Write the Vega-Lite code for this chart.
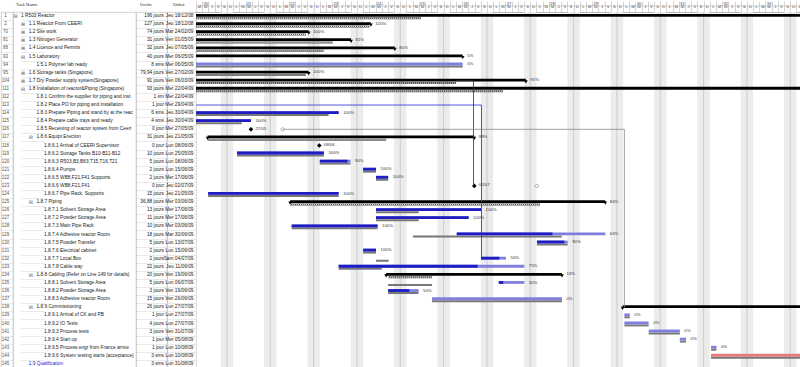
{
"$schema": "https://vega.github.io/schema/vega-lite/v6.json",
"padding": 0,
"spacing": 0,
"bounds": "flush",
"background": "white",
"config": {
  "view": {"stroke": "#c6c6c6", "strokeWidth": 0.8},
  "font": "Liberation Sans",
  "title": {"fontSize": 4.3, "fontWeight": "normal", "color": "#333", "anchor": "start", "frame": "group", "offset": 5, "baseline": "bottom", "font": "Liberation Sans"},
  "axis": {"labelFont": "Liberation Sans"}
},
"datasets": {
"tasks": [
{"i":0,"id":1,"n":"1 R503 Reactor","d":"196 jours","st":"Jeu 18/12/08","l":0,"k":"sum","ex":true,"s":"2008-12-18","e":"2009-09-15","bs":"2008-12-18","be":"2009-06-24T08:00Z"},
{"i":1,"id":2,"n":"1.1 Reactor From CEERI","d":"127 jours","st":"Jeu 18/12/08","l":1,"k":"sum","ex":false,"s":"2008-12-18","e":"2009-06-16T06:00Z","bs":"2008-12-18","be":"2009-06-16T00:00Z","lab":"100%"},
{"i":2,"id":70,"n":"1.2 Site work","d":"74 jours","st":"Mar 24/02/09","l":1,"k":"sum","ex":false,"s":"2009-02-24","e":"2009-06-06T05:00Z","bs":"2009-02-24","be":"2009-06-05T18:00Z","lab":"100%"},
{"i":3,"id":81,"n":"1.3 Nitrogen Generator","d":"31 jours","st":"Ven 01/05/09","l":1,"k":"sum","ex":false,"s":"2009-05-01","e":"2009-06-13T01:00Z","bs":"2009-05-01","be":"2009-06-10T02:00Z","lab":"81%"},
{"i":4,"id":88,"n":"1.4 Licence and Permits","d":"32 jours","st":"Jeu 07/05/09","l":1,"k":"sum","ex":false,"s":"2009-05-07","e":"2009-06-20T03:00Z","bs":"2009-05-07","be":"2009-06-08T15:00Z","lab":"80%"},
{"i":5,"id":93,"n":"1.5 Laboratory","d":"40 jours","st":"Mer 06/05/09","l":1,"k":"sum","ex":true,"s":"2009-05-06","e":"2009-07-01T02:00Z","lab":"5%"},
{"i":6,"id":94,"n":"1.5.1 Polymer lab ready","d":"8 sms","st":"Mer 06/05/09","l":2,"k":"task","s":"2009-05-06","e":"2009-07-01T02:00Z","p":"2009-05-09","bs":"2009-05-06","be":"2009-07-01T02:00Z","lab":"5%"},
{"i":7,"id":95,"n":"1.6 Storage tanks (Singapore)","d":"79,94 jours","st":"Ven 27/02/09","l":1,"k":"sum","ex":false,"s":"2009-02-27","e":"2009-06-06T05:00Z","bs":"2009-02-27","be":"2009-06-05T18:00Z","lab":"100%"},
{"i":8,"id":104,"n":"1.7 Dry Powder supply system(Singapore)","d":"91 jours","st":"Ven 06/03/09","l":1,"k":"sum","ex":false,"s":"2009-03-06","e":"2009-07-11T07:00Z","bs":"2009-03-06","be":"2009-06-30T00:00Z","lab":"91%"},
{"i":9,"id":111,"n":"1.8 Installation of reactor&Piping (Singapore)","d":"93 jours","st":"Mer 22/04/09","l":1,"k":"sum","ex":true,"s":"2009-04-22","e":"2009-09-15","bs":"2009-04-22","be":"2009-07-07T14:00Z"},
{"i":10,"id":112,"n":"1.8.1 Confirm the supplier for piping and installation","d":"1 sm","st":"Mer 22/04/09","l":2,"k":"task","s":"2009-04-22","e":"2009-04-29","p":"2009-04-29","bs":"2009-04-22","be":"2009-04-29"},
{"i":11,"id":113,"n":"1.8.2 Place PO for piping and installation","d":"1 jour","st":"Mer 29/04/09","l":2,"k":"task","s":"2009-04-29","e":"2009-04-30","p":"2009-04-30","bs":"2009-04-29","be":"2009-04-30"},
{"i":12,"id":114,"n":"1.8.3 Prepare Piping and stand by at the reactor","d":"6 sms","st":"Jeu 30/04/09","l":2,"k":"task","s":"2009-04-30","e":"2009-06-11T01:00Z","p":"2009-06-11T01:00Z","bs":"2009-04-30","be":"2009-06-09T10:00Z","lab":"100%"},
{"i":13,"id":115,"n":"1.8.4 Prepare cable trays and ready","d":"4 sms","st":"Jeu 30/04/09","l":2,"k":"task","s":"2009-04-30","e":"2009-05-27T21:00Z","p":"2009-05-27T21:00Z","bs":"2009-04-30","be":"2009-05-26T09:00Z","lab":"100%"},
{"i":14,"id":116,"n":"1.8.5 Receiving of reactor system from Ceeri","d":"0 jour","st":"Mer 27/05/09","l":2,"k":"ms","s":"2009-05-27T21:00Z","e":"2009-05-27T21:00Z","bs":"2009-06-02T00:00Z","lab":"27/05"},
{"i":15,"id":117,"n":"1.8.6 Equipt Erection","d":"31 jours","st":"Jeu 21/05/09","l":2,"k":"sum","ex":true,"s":"2009-05-20T21:00Z","e":"2009-07-02T23:00Z","bs":"2009-05-20T21:00Z","be":"2009-06-18T17:00Z","lab":"99%"},
{"i":16,"id":118,"n":"1.8.6.1 Arrival of CEERI Supervisor","d":"0 jour","st":"Lun 08/06/09","l":3,"k":"ms","s":"2009-06-07T22:00Z","e":"2009-06-07T22:00Z","lab":"08/06"},
{"i":17,"id":119,"n":"1.8.6.2 Storage Tanks B10-B11-B12","d":"10 jours","st":"Lun 25/05/09","l":3,"k":"task","s":"2009-05-25T15:00Z","e":"2009-06-08T16:00Z","p":"2009-06-08T16:00Z","bs":"2009-05-25T15:00Z","be":"2009-06-08T16:00Z","lab":"100%"},
{"i":18,"id":120,"n":"1.8.6.3 R503,B3,B63,T15,T16,T21","d":"5 jours","st":"Lun 08/06/09","l":3,"k":"task","s":"2009-06-08T00:00Z","e":"2009-06-12T23:00Z","p":"2009-06-12T11:00Z","bs":"2009-06-08T00:00Z","be":"2009-06-12T23:00Z","lab":"90%"},
{"i":19,"id":121,"n":"1.8.6.4 Pumps","d":"2 jours","st":"Lun 15/06/09","l":3,"k":"task","s":"2009-06-15T00:00Z","e":"2009-06-17T02:00Z","p":"2009-06-17T02:00Z","bs":"2009-06-15T00:00Z","be":"2009-06-17T02:00Z","lab":"100%"},
{"i":20,"id":122,"n":"1.8.6.5 WB8,F21,F41 Supports","d":"2 jours","st":"Mer 17/06/09","l":3,"k":"task","s":"2009-06-17T02:00Z","e":"2009-06-19T01:00Z","p":"2009-06-19T01:00Z","bs":"2009-06-17T02:00Z","be":"2009-06-19T01:00Z","lab":"100%"},
{"i":21,"id":123,"n":"1.8.6.6 WB8,F21,F41","d":"0 jour","st":"Jeu 02/07/09","l":3,"k":"ms","s":"2009-07-02T23:00Z","e":"2009-07-02T23:00Z","bs":"2009-07-13T01:00Z","lab":"02/07"},
{"i":22,"id":124,"n":"1.8.6.7 Pipe Rack, Supports","d":"15 jours","st":"Jeu 21/05/09","l":3,"k":"task","s":"2009-05-20T23:00Z","e":"2009-06-11T01:00Z","p":"2009-06-11T01:00Z","bs":"2009-05-20T23:00Z","be":"2009-06-11T01:00Z","lab":"100%"},
{"i":23,"id":125,"n":"1.8.7 Piping","d":"36,88 jours","st":"Mer 03/06/09","l":2,"k":"sum","ex":true,"s":"2009-06-03T05:00Z","e":"2009-07-24T03:00Z","bs":"2009-06-03T05:00Z","be":"2009-07-13T14:00Z","lab":"84%"},
{"i":24,"id":126,"n":"1.8.7.1 Solvent Storage Area","d":"13 jours","st":"Mer 17/06/09","l":3,"k":"task","s":"2009-06-17T02:00Z","e":"2009-07-04T01:00Z","p":"2009-07-04T01:00Z","bs":"2009-06-17T02:00Z","be":"2009-06-23T23:00Z","lab":"100%"},
{"i":25,"id":127,"n":"1.8.7.2 Powder Storage Area","d":"11 jours","st":"Mer 17/06/09","l":3,"k":"task","s":"2009-06-17T02:00Z","e":"2009-07-02T01:00Z","p":"2009-07-02T01:00Z","bs":"2009-06-17T02:00Z","be":"2009-06-23T23:00Z","lab":"100%"},
{"i":26,"id":128,"n":"1.8.7.3 Main Pipe Rack","d":"10 jours","st":"Mer 03/06/09","l":3,"k":"task","s":"2009-06-03T11:00Z","e":"2009-06-17T08:00Z","p":"2009-06-17T08:00Z","bs":"2009-06-03T11:00Z","be":"2009-06-17T08:00Z","lab":"100%"},
{"i":27,"id":129,"n":"1.8.7.4 Adhesive reactor Room","d":"18 jours","st":"Mar 30/06/09","l":3,"k":"task","s":"2009-06-30T03:00Z","e":"2009-07-24T03:00Z","p":"2009-07-15T14:00Z","bs":"2009-06-23T01:00Z","be":"2009-07-17T02:00Z","lab":"63%"},
{"i":28,"id":130,"n":"1.8.7.5 Powder Transfer","d":"5 jours","st":"Lun 13/07/09","l":3,"k":"task","s":"2009-07-13T02:00Z","e":"2009-07-18T01:00Z","p":"2009-07-17T12:00Z","bs":"2009-07-13T02:00Z","be":"2009-07-18T01:00Z","lab":"90%"},
{"i":29,"id":131,"n":"1.8.7.6 Electrical cabinet","d":"2 jours","st":"Lun 15/06/09","l":3,"k":"task","s":"2009-06-15T00:00Z","e":"2009-06-17T02:00Z","p":"2009-06-17T02:00Z","bs":"2009-06-15T00:00Z","be":"2009-06-17T02:00Z","lab":"100%"},
{"i":30,"id":132,"n":"1.8.7.7 Local Box","d":"2 jours","st":"Sam 04/07/09","l":3,"k":"task","s":"2009-07-04T01:00Z","e":"2009-07-08T02:00Z","p":"2009-07-07T00:00Z","bs":"2009-06-17T02:00Z","be":"2009-06-19T03:00Z","lab":"50%"},
{"i":31,"id":133,"n":"1.8.7.8 Cable way","d":"22 jours","st":"Jeu 11/06/09","l":3,"k":"task","s":"2009-06-11T01:00Z","e":"2009-07-11T01:00Z","p":"2009-07-03T12:00Z","bs":"2009-06-11T01:00Z","be":"2009-06-18T00:00Z","lab":"75%"},
{"i":32,"id":134,"n":"1.8.8 Cabling (Refer on Line 149 for details)","d":"20 jours","st":"Ven 19/06/09","l":2,"k":"sum","ex":true,"s":"2009-06-18T17:00Z","e":"2009-07-17T03:00Z","bs":"2009-06-19T01:00Z","be":"2009-06-26T03:00Z","lab":"13%"},
{"i":33,"id":135,"n":"1.8.8.1 Solvent Storage Area","d":"5 jours","st":"Lun 06/07/09","l":3,"k":"task","s":"2009-07-06T22:00Z","e":"2009-07-11T01:00Z","p":"2009-07-07T15:00Z","bs":"2009-06-19T01:00Z","be":"2009-06-26T03:00Z","lab":"30%"},
{"i":34,"id":136,"n":"1.8.8.2 Powder Storage Area","d":"3 jours","st":"Ven 19/06/09","l":3,"k":"task","s":"2009-06-19T01:00Z","e":"2009-06-23T23:00Z","p":"2009-06-22T11:00Z","bs":"2009-06-19T01:00Z","be":"2009-06-23T23:00Z","lab":"50%"},
{"i":35,"id":137,"n":"1.8.8.3 Adhesive reactor Room","d":"15 jours","st":"Ven 26/06/09","l":3,"k":"task","s":"2009-06-26T03:00Z","e":"2009-07-17T03:00Z","bs":"2009-06-26T03:00Z","be":"2009-07-17T03:00Z","lab":"0%"},
{"i":36,"id":138,"n":"1.8.9 Commissioning","d":"26 jours","st":"Lun 27/07/09","l":2,"k":"sum","ex":true,"s":"2009-07-26T22:00Z","e":"2009-09-01"},
{"i":37,"id":139,"n":"1.8.9.1 Arrival of CK and PB","d":"1 jour","st":"Lun 27/07/09","l":3,"k":"task","s":"2009-07-27T05:00Z","e":"2009-07-28T02:00Z","bs":"2009-07-27T05:00Z","be":"2009-07-28T02:00Z","lab":"0%"},
{"i":38,"id":140,"n":"1.8.9.2 IO Tests","d":"4 jours","st":"Lun 27/07/09","l":3,"k":"task","s":"2009-07-27T05:00Z","e":"2009-07-31T03:00Z","bs":"2009-07-27T05:00Z","be":"2009-07-31T03:00Z","lab":"0%"},
{"i":39,"id":141,"n":"1.8.9.3 Process tests","d":"3 jours","st":"Ven 31/07/09","l":3,"k":"task","s":"2009-07-31T03:00Z","e":"2009-08-05T04:00Z","bs":"2009-07-31T03:00Z","be":"2009-08-05T04:00Z","lab":"0%"},
{"i":40,"id":142,"n":"1.8.9.4 Start up","d":"1 jour","st":"Mer 05/08/09","l":3,"k":"task","s":"2009-08-05T04:00Z","e":"2009-08-06T04:00Z","bs":"2009-08-05T04:00Z","be":"2009-08-06T04:00Z","lab":"0%"},
{"i":41,"id":143,"n":"1.8.9.5 Process engr from France arrive","d":"1 jour","st":"Lun 10/08/09","l":3,"k":"task","s":"2009-08-10T05:00Z","e":"2009-08-11T02:00Z","bs":"2009-08-10T05:00Z","be":"2009-08-11T02:00Z","lab":"0%"},
{"i":42,"id":144,"n":"1.8.9.6 System testing starts (acceptance)","d":"3 sms","st":"Lun 10/08/09","l":3,"k":"task","crit":true,"s":"2009-08-10T05:00Z","e":"2009-08-29","bs":"2009-08-10T05:00Z","be":"2009-08-29"},
{"i":43,"id":145,"n":"1.9 Qualification","d":"3 sms","st":"Lun 31/08/09","l":1,"k":"ext","s":"2009-08-31","e":"2009-09-19"}
],
"weekends": [
{"sat":"2009-05-23","sun":"2009-05-24","mon":"2009-05-25"},
{"sat":"2009-05-30","sun":"2009-05-31","mon":"2009-06-01"},
{"sat":"2009-06-06","sun":"2009-06-07","mon":"2009-06-08"},
{"sat":"2009-06-13","sun":"2009-06-14","mon":"2009-06-15"},
{"sat":"2009-06-20","sun":"2009-06-21","mon":"2009-06-22"},
{"sat":"2009-06-27","sun":"2009-06-28","mon":"2009-06-29"},
{"sat":"2009-07-04","sun":"2009-07-05","mon":"2009-07-06"},
{"sat":"2009-07-11","sun":"2009-07-12","mon":"2009-07-13"},
{"sat":"2009-07-18","sun":"2009-07-19","mon":"2009-07-20"},
{"sat":"2009-07-25","sun":"2009-07-26","mon":"2009-07-27"},
{"sat":"2009-08-01","sun":"2009-08-02","mon":"2009-08-03"},
{"sat":"2009-08-08","sun":"2009-08-09","mon":"2009-08-10"},
{"sat":"2009-08-15","sun":"2009-08-16","mon":"2009-08-17"},
{"sat":"2009-08-22","sun":"2009-08-23","mon":"2009-08-24"}
],
"links": [
{"xa":"2009-05-18","xb":"2009-07-04T03:00Z","ra":11,"rb":11,"c":"b"},
{"xa":"2009-07-04T03:00Z","xb":"2009-07-04T03:00Z","ra":11,"rb":30,"c":"b"},
{"xa":"2009-06-30T00:00Z","xb":"2009-07-02T20:00Z","ra":8,"rb":8,"c":"d"},
{"xa":"2009-07-02T20:00Z","xb":"2009-07-02T20:00Z","ra":8,"rb":21,"c":"d"},
{"xa":"2009-06-02T00:00Z","xb":"2009-07-27T05:00Z","ra":14,"rb":14,"c":"g"},
{"xa":"2009-07-27T05:00Z","xb":"2009-07-27T05:00Z","ra":14,"rb":36,"c":"g"}
]
},
"hconcat": [
{
  "width": 12, "height": 356,
  "data": {"name": "tasks"},
  "mark": {"type": "text", "fontSize": 4.5, "color": "#555", "dx": -1.5, "baseline": "middle"},
  "encoding": {
    "y": {"field": "i", "type": "ordinal", "scale": {"type": "band", "domain": [0,1,2,3,4,5,6,7,8,9,10,11,12,13,14,15,16,17,18,19,20,21,22,23,24,25,26,27,28,29,30,31,32,33,34,35,36,37,38,39,40,41,42,43], "paddingInner": 0, "paddingOuter": 0}, "axis": {"grid": true, "tickBand": "extent", "labels": false, "ticks": false, "domain": false, "title": null, "gridColor": "#dcdcdc", "gridWidth": 0.6}},
    "text": {"field": "id"}
  }
},
{
  "width": 123, "height": 356,
  "title": {"text": "Task Name", "dx": 3},
  "data": {"name": "tasks"},
  "encoding": {
    "y": {"field": "i", "type": "ordinal", "scale": {"type": "band", "domain": [0,1,2,3,4,5,6,7,8,9,10,11,12,13,14,15,16,17,18,19,20,21,22,23,24,25,26,27,28,29,30,31,32,33,34,35,36,37,38,39,40,41,42,43], "paddingInner": 0, "paddingOuter": 0}, "axis": {"grid": true, "tickBand": "extent", "labels": false, "ticks": false, "domain": false, "title": null, "gridColor": "#dcdcdc", "gridWidth": 0.6}},
    "x": {"field": "l", "type": "quantitative", "scale": {"domain": [0, 3], "range": [8, 31.1]}, "axis": null},
    "text": {"field": "n"},
    "fontWeight": {"condition": {"test": "datum.k=='sum' || datum.k=='ext'", "value": "bold"}, "value": "normal"},
    "color": {"condition": {"test": "datum.k=='ext'", "value": "#2323c8"}, "value": "#1a1a1a"}
  },
  "layer": [
    {
      "transform": [{"filter": "datum.l <= 1"}],
      "mark": {"type": "text", "align": "left", "baseline": "middle", "fontSize": 4.8, "limit": 106, "ellipsis": " "}
    },
    {
      "transform": [{"filter": "datum.l == 2"}],
      "mark": {"type": "text", "align": "left", "baseline": "middle", "fontSize": 4.8, "limit": 98, "ellipsis": " "}
    },
    {
      "transform": [{"filter": "datum.l == 3"}],
      "mark": {"type": "text", "align": "left", "baseline": "middle", "fontSize": 4.8, "limit": 90, "ellipsis": " "}
    },
    {
      "transform": [{"filter": "datum.k=='sum'"}],
      "mark": {"type": "text", "align": "center", "baseline": "middle", "fontSize": 5, "dx": -5.5, "font": "DejaVu Sans"},
      "encoding": {
        "text": {"condition": {"test": "datum.ex", "value": "⊟"}, "value": "⊞"},
        "color": {"value": "#666666"},
        "fontWeight": {"value": "normal"}
      }
    }
  ]
},
{
  "width": 31, "height": 356,
  "title": {"text": "Durée", "dx": 4},
  "data": {"name": "tasks"},
  "mark": {"type": "text", "align": "right", "baseline": "middle", "fontSize": 4.8, "dx": -3},
  "encoding": {
    "y": {"field": "i", "type": "ordinal", "scale": {"type": "band", "domain": [0,1,2,3,4,5,6,7,8,9,10,11,12,13,14,15,16,17,18,19,20,21,22,23,24,25,26,27,28,29,30,31,32,33,34,35,36,37,38,39,40,41,42,43], "paddingInner": 0, "paddingOuter": 0}, "axis": {"grid": true, "tickBand": "extent", "labels": false, "ticks": false, "domain": false, "title": null, "gridColor": "#dcdcdc", "gridWidth": 0.6}},
    "x": {"value": "width"},
    "text": {"field": "d"},
    "fontWeight": {"condition": {"test": "datum.k=='sum'", "value": "bold"}, "value": "normal"},
    "color": {"value": "#1a1a1a"}
  }
},
{
  "width": 29, "height": 356,
  "title": {"text": "Début", "dx": 6},
  "data": {"name": "tasks"},
  "mark": {"type": "text", "align": "right", "baseline": "middle", "fontSize": 4.8, "dx": -2.5},
  "encoding": {
    "y": {"field": "i", "type": "ordinal", "scale": {"type": "band", "domain": [0,1,2,3,4,5,6,7,8,9,10,11,12,13,14,15,16,17,18,19,20,21,22,23,24,25,26,27,28,29,30,31,32,33,34,35,36,37,38,39,40,41,42,43], "paddingInner": 0, "paddingOuter": 0}, "axis": {"grid": true, "tickBand": "extent", "labels": false, "ticks": false, "domain": false, "title": null, "gridColor": "#dcdcdc", "gridWidth": 0.6}},
    "x": {"value": "width"},
    "text": {"field": "st"},
    "fontWeight": {"condition": {"test": "datum.k=='sum'", "value": "bold"}, "value": "normal"},
    "color": {"value": "#1a1a1a"}
  }
},
{
  "width": 605, "height": 356,
  "view": {"stroke": null},
  "resolve": {"axis": {"x": "independent"}},
  "layer": [
    {
      "data": {"name": "weekends"},
      "mark": {"type": "rect", "color": "#ececec", "clip": true},
      "encoding": {
        "x": {"field": "sat", "type": "temporal",
              "scale": {"type": "utc", "domain": [{"year": 2009, "month": 5, "date": 19, "utc": true}, {"year": 2009, "month": 8, "date": 24, "hours": 17, "minutes": 45, "utc": true}]},
              "axis": {"orient": "top", "title": null, "tickCount": {"interval": "day", "step": 1},
                       "labelExpr": "['D','L','M','M','J','V','S'][utcday(datum.value)]",
                       "labelOffset": 3.1, "labelAlign": "center", "labelFontSize": 4.2, "labelColor": "#444",
                       "labelPadding": -7.8, "tickSize": 11, "tickColor": "#b8b8b8", "tickWidth": 0.6,
                       "domainColor": "#a0a0a0", "domainWidth": 0.8, "labelOverlap": false, "labelFlush": false,
                       "labelBound": false, "grid": false}},
        "x2": {"field": "mon"}
      }
    },
    {
      "data": {"name": "weekends"},
      "mark": {"type": "rule", "color": "#d0d0d0", "strokeWidth": 1.2, "clip": true},
      "encoding": {
        "x": {"field": "sun", "type": "temporal",
              "axis": {"orient": "top", "title": null, "offset": 6.5,
                       "values": [
                         {"year": 2009, "month": 5, "date": 20, "hours": 12, "utc": true},
                         {"year": 2009, "month": 5, "date": 27, "hours": 12, "utc": true},
                         {"year": 2009, "month": 6, "date": 3, "hours": 12, "utc": true},
                         {"year": 2009, "month": 6, "date": 10, "hours": 12, "utc": true},
                         {"year": 2009, "month": 6, "date": 17, "hours": 12, "utc": true},
                         {"year": 2009, "month": 6, "date": 24, "hours": 12, "utc": true},
                         {"year": 2009, "month": 7, "date": 1, "hours": 12, "utc": true},
                         {"year": 2009, "month": 7, "date": 8, "hours": 12, "utc": true},
                         {"year": 2009, "month": 7, "date": 15, "hours": 12, "utc": true},
                         {"year": 2009, "month": 7, "date": 22, "hours": 12, "utc": true},
                         {"year": 2009, "month": 7, "date": 29, "hours": 12, "utc": true},
                         {"year": 2009, "month": 8, "date": 5, "hours": 12, "utc": true},
                         {"year": 2009, "month": 8, "date": 12, "hours": 12, "utc": true},
                         {"year": 2009, "month": 8, "date": 19, "hours": 12, "utc": true}
                       ],
                       "format": "%U", "ticks": false, "labelFontSize": 4.2, "labelColor": "#444",
                       "labelPadding": 0.5, "domainColor": "#b8b8b8", "domainWidth": 0.6,
                       "labelOverlap": false, "labelFlush": false, "labelBound": false, "grid": false}}
      }
    },
    {
      "data": {"name": "tasks"},
      "encoding": {
        "y": {"field": "i", "type": "ordinal", "scale": {"type": "band", "domain": [0,1,2,3,4,5,6,7,8,9,10,11,12,13,14,15,16,17,18,19,20,21,22,23,24,25,26,27,28,29,30,31,32,33,34,35,36,37,38,39,40,41,42,43], "paddingInner": 0, "paddingOuter": 0}, "axis": null}
      },
      "layer": [
        {
          "transform": [{"filter": "datum.k=='sum' && datum.bs"}],
          "mark": {"type": "bar", "height": 2, "yOffset": 2.3, "color": "#555555", "clip": true},
          "encoding": {"x": {"field": "bs", "type": "temporal", "axis": null}, "x2": {"field": "be"}}
        },
        {
          "transform": [{"filter": "datum.k=='sum' && datum.bs"}],
          "mark": {"type": "rule", "yOffset": 2.3, "strokeDash": [1, 1], "color": "#ffffff", "strokeWidth": 0.9, "clip": true},
          "encoding": {"x": {"field": "bs", "type": "temporal", "axis": null}, "x2": {"field": "be"}}
        },
        {
          "transform": [{"filter": "datum.k=='task' && datum.bs"}],
          "mark": {"type": "bar", "height": 2, "yOffset": 1.9, "color": "#777777", "clip": true},
          "encoding": {"x": {"field": "bs", "type": "temporal", "axis": null}, "x2": {"field": "be"}}
        },
        {
          "transform": [{"filter": "datum.k=='task'"}],
          "mark": {"type": "bar", "height": 2.8, "yOffset": -0.6, "clip": true},
          "encoding": {
            "x": {"field": "s", "type": "temporal", "axis": null}, "x2": {"field": "e"},
            "color": {"condition": {"test": "datum.crit", "value": "#e47c7c"}, "value": "#7f7fe0"}
          }
        },
        {
          "transform": [{"filter": "datum.k=='task' && datum.p"}],
          "mark": {"type": "bar", "height": 2.8, "yOffset": -0.6, "color": "#1d1dc2", "clip": true},
          "encoding": {"x": {"field": "s", "type": "temporal", "axis": null}, "x2": {"field": "p"}}
        },
        {
          "transform": [{"filter": "datum.k=='sum'"}],
          "mark": {"type": "bar", "height": 2.8, "yOffset": -0.6, "color": "#000000", "clip": true},
          "encoding": {"x": {"field": "s", "type": "temporal", "axis": null}, "x2": {"field": "e"}}
        },
        {
          "transform": [{"filter": "datum.k=='sum'"}],
          "mark": {"type": "point", "shape": "triangle-down", "filled": true, "size": 14, "color": "#000000", "opacity": 1, "yOffset": 1, "clip": true},
          "encoding": {"x": {"field": "s", "type": "temporal", "axis": null}}
        },
        {
          "transform": [{"filter": "datum.k=='sum'"}],
          "mark": {"type": "point", "shape": "triangle-down", "filled": true, "size": 14, "color": "#000000", "opacity": 1, "yOffset": 1, "clip": true},
          "encoding": {"x": {"field": "e", "type": "temporal", "axis": null}}
        },
        {
          "transform": [{"filter": "datum.k=='ms' && datum.bs"}],
          "mark": {"type": "point", "shape": "diamond", "filled": true, "size": 16, "fill": "#ffffff", "stroke": "#888888", "strokeWidth": 0.7, "opacity": 1, "clip": true},
          "encoding": {"x": {"field": "bs", "type": "temporal", "axis": null}}
        },
        {
          "transform": [{"filter": "datum.k=='ms'"}],
          "mark": {"type": "point", "shape": "diamond", "filled": true, "size": 22, "color": "#000000", "opacity": 1, "clip": true},
          "encoding": {"x": {"field": "s", "type": "temporal", "axis": null}}
        },
        {
          "transform": [{"filter": "datum.lab"}],
          "mark": {"type": "text", "align": "left", "baseline": "middle", "dx": 4.5, "dy": -0.5, "fontSize": 4.3, "color": "#333333", "clip": true},
          "encoding": {"x": {"field": "e", "type": "temporal", "axis": null}, "text": {"field": "lab"}}
        }
      ]
    },
    {
      "data": {"name": "links"},
      "mark": {"type": "rule", "strokeWidth": 0.8, "clip": true},
      "encoding": {
        "x": {"field": "xa", "type": "temporal", "axis": null},
        "x2": {"field": "xb"},
        "y": {"field": "ra", "type": "ordinal", "scale": {"type": "band", "domain": [0,1,2,3,4,5,6,7,8,9,10,11,12,13,14,15,16,17,18,19,20,21,22,23,24,25,26,27,28,29,30,31,32,33,34,35,36,37,38,39,40,41,42,43], "paddingInner": 0, "paddingOuter": 0}, "axis": null},
        "y2": {"field": "rb"},
        "color": {"field": "c", "type": "nominal", "scale": {"domain": ["b", "d", "g"], "range": ["#2b2bd6", "#333333", "#8c8c8c"]}, "legend": null}
      }
    }
  ]
}
]
}
